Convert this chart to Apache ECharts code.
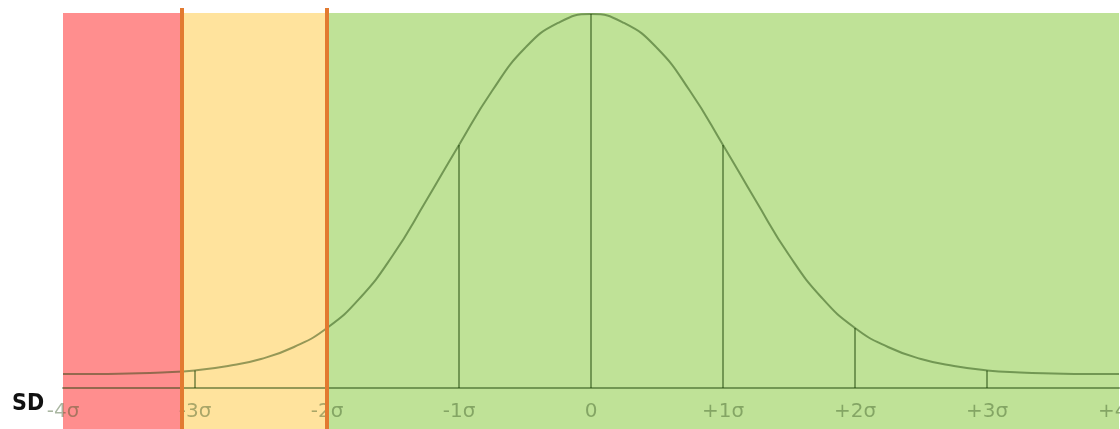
<!DOCTYPE html>
<html>
<head>
<meta charset="utf-8">
<script src="https://cdn.jsdelivr.net/npm/echarts@6/dist/echarts.min.js"></script>
<style>
  html, body { margin: 0; padding: 0; background: #fff; }
  #chart { width: 1120px; height: 429px; }
</style>
</head>
<body>
<div id="chart"></div>
<script>
// 横轴刻度 (单位 σ)
const sdTicks = [-4, -3, -2, -1, 0, 1, 2, 3, 4]
const sdLabels = ['-4σ', '-3σ', '-2σ', '-1σ', '0', '+1σ', '+2σ', '+3σ', '+4σ']

// 曲线 (x 每 0.25σ 一个点，高度从坐标轴线量起)
const curveX = [-4, -3.75, -3.5, -3.25, -3, -2.75, -2.5, -2.25, -2, -1.75, -1.5, -1.25, -1, -0.75, -0.5, -0.25,
  0, 0.25, 0.5, 0.75, 1, 1.25, 1.5, 1.75, 2, 2.25, 2.5, 2.75, 3, 3.25, 3.5, 3.75, 4]
const curveY = [0.0154, 0.0154, 0.016, 0.0171, 0.0193, 0.0242, 0.032, 0.0452, 0.0661, 0.0992, 0.1465, 0.206, 0.2678, 0.3272, 0.3746, 0.4022,
  0.4121, 0.4022, 0.3746, 0.3272, 0.2678, 0.206, 0.1465, 0.0992, 0.0661, 0.0452, 0.032, 0.0242, 0.0193, 0.0171, 0.016, 0.0154, 0.0154]

// 竖线 (整数 σ 处，从轴线到曲线)
const dropX = [-3, -2, -1, 0, 1, 2, 3]
const dropY = [0.0193, 0.0661, 0.2678, 0.4121, 0.2678, 0.0661, 0.0193]

// 背景色带 (纵向 0~100)
const bandEdges = [-4, -3.1, -2, 4]
const bandColors = ['#FF8E8E', '#FFE39D', '#BFE297']
const bandTop = 98.8
const cutLines = [-3.1, -2]

const ink = 'rgba(20,60,0,0.45)'

const myEchart = echarts.init(document.querySelector('#chart'))

const bands = bandColors.map((color, i) => [
  { xAxis: bandEdges[i], yAxis: 0, itemStyle: { color } },
  { xAxis: bandEdges[i + 1], yAxis: bandTop },
])

myEchart.setOption({
  animation: false,
  title: {
    text: 'SD',
    left: 12,
    top: 393,
    padding: 0,
    textStyle: {
      fontSize: 23,
      fontWeight: 'bold',
      color: '#111',
      fontFamily: '"Liberation Sans Narrow", "DejaVu Sans Condensed", "Liberation Sans", sans-serif',
    },
  },
  // 0: 背景色带整块；1: 曲线和坐标轴
  grid: [
    { left: 63, right: 1, top: 8, bottom: 0, outerBoundsMode: 'none' },
    { left: 63, right: 1, top: 13, bottom: 41, outerBoundsMode: 'none' },
  ],
  xAxis: [
    {
      gridIndex: 0,
      type: 'value',
      min: -4,
      max: 4,
      show: false,
    },
    {
      gridIndex: 1,
      type: 'value',
      min: -4,
      max: 4,
      interval: 1,
      z: 3,
      splitLine: { show: false },
      axisTick: { show: false },
      axisLine: {
        onZero: false,
        lineStyle: { color: ink, width: 2 },
      },
      axisLabel: {
        margin: 14,
        fontSize: 20,
        color: 'rgba(50,80,30,0.42)',
        fontFamily: '"DejaVu Sans", sans-serif',
        formatter: (v) => sdLabels[sdTicks.indexOf(v)] || '',
      },
    },
  ],
  yAxis: [
    { gridIndex: 0, type: 'value', min: 0, max: 100, show: false },
    { gridIndex: 1, type: 'value', min: 0, max: 0.4132, show: false },
  ],
  series: [
    {
      type: 'line',
      xAxisIndex: 0,
      yAxisIndex: 0,
      data: [],
      markArea: {
        silent: true,
        itemStyle: { opacity: 1 },
        data: bands,
      },
      markLine: {
        silent: true,
        symbol: 'none',
        label: { show: false },
        lineStyle: { color: '#E27A30', width: 4, type: 'solid' },
        data: cutLines.map((x) => ({ xAxis: x })),
      },
    },
    {
      type: 'line',
      xAxisIndex: 1,
      yAxisIndex: 1,
      data: curveX.map((x, i) => [x, curveY[i]]),
      smooth: 0.5,
      showSymbol: false,
      z: 3,
      lineStyle: { color: ink, width: 2 },
    },
    {
      type: 'bar',
      xAxisIndex: 1,
      yAxisIndex: 1,
      data: dropX.map((x, i) => [x, dropY[i]]),
      barWidth: 2,
      z: 3,
      itemStyle: { color: ink },
    },
  ],
})
</script>
</body>
</html>
